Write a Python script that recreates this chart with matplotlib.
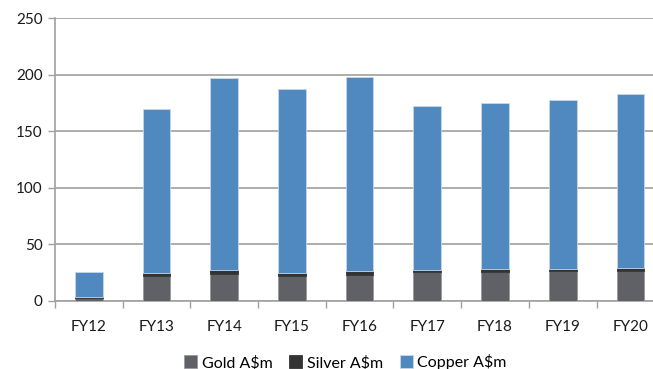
import matplotlib.pyplot as plt
import numpy as np

years = ["FY12", "FY13", "FY14", "FY15", "FY16", "FY17", "FY18", "FY19", "FY20"]
gold = [2.5, 21.7, 23.5, 21.7, 22.3, 25.3, 25.3, 26.2, 26.2]
silver = [1.0, 2.9, 3.5, 2.9, 3.6, 2.0, 2.9, 2.0, 2.9]
copper = [21.5, 145.2, 170.0, 162.6, 172.2, 144.9, 146.6, 149.8, 153.7]

plt.rcParams['font.family'] = ['Lato', 'DejaVu Sans']
plt.rcParams['font.size'] = 11

fig = plt.figure(figsize=(6.53, 3.69), dpi=100)
ax = fig.add_axes([0.0842, 0.1856, 0.933, 0.7644])

x = np.arange(len(years))
w = 0.41
gold_c, silver_c, copper_c = "#606166", "#333333", "#4f89bf"
edge = "#c8d8e8"

b1 = ax.bar(x, gold, w, color=gold_c, edgecolor="#9a9a9e", linewidth=0.6,
            label="Gold A$m", zorder=3)
b2 = ax.bar(x, silver, w, bottom=gold, color=silver_c, edgecolor=silver_c,
            linewidth=0.6, label="Silver A$m", zorder=3)
base = np.array(gold) + np.array(silver)
b3 = ax.bar(x, copper, w, bottom=base, color=copper_c, edgecolor=edge,
            linewidth=0.6, label="Copper A$m", zorder=3)

ax.set_xlim(-0.5, len(years) - 0.5)
ax.set_ylim(0, 250)
ax.set_yticks(range(0, 251, 50))
ax.set_xticks(x)
ax.set_xticklabels(years)
ax.set_xticks(np.arange(-0.5, len(years)), minor=True)
ax.tick_params(axis='x', which='major', length=0, pad=14, colors="#1a1a1a")
ax.tick_params(axis='x', which='minor', length=5, width=1, color="#a0a0a0")
ax.tick_params(axis='y', length=5, width=1, pad=4, colors="#1a1a1a")
ax.tick_params(axis='y', color="#a0a0a0")

ax.grid(axis='y', color="#a0a0a0", linewidth=1.2, zorder=0)
for side in ("top", "right"):
    ax.spines[side].set_visible(False)
for side in ("left", "bottom"):
    ax.spines[side].set_color("#a0a0a0")
    ax.spines[side].set_linewidth(1.2)

fig.legend(handles=[b1, b2, b3], loc="lower center", ncol=3,
           bbox_to_anchor=(0.529, -0.042), frameon=False, handlelength=0.8,
           handleheight=0.8, handletextpad=0.3, columnspacing=1.05,
           fontsize=11.5)

fig.savefig("out.png", dpi=100)
